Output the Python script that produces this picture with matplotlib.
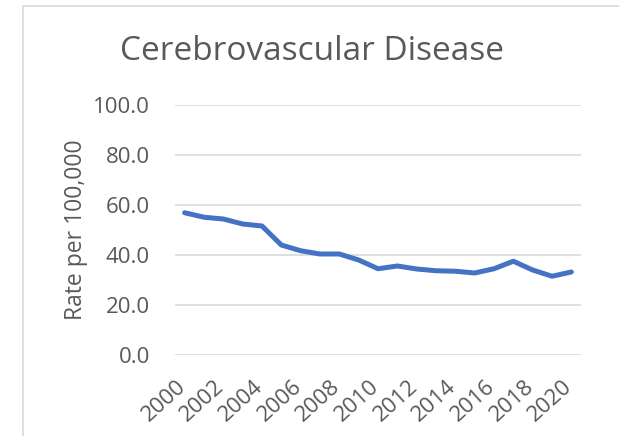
import matplotlib
matplotlib.use('Agg')
import matplotlib.pyplot as plt
from matplotlib.patches import Rectangle
from matplotlib.transforms import ScaledTranslation

# Данные графика
years = list(range(2000, 2021))
rates = [56.9, 55.1, 54.4, 52.4, 51.6, 44.0, 41.7, 40.4, 40.4, 38.0, 34.5,
         35.6, 34.4, 33.7, 33.5, 32.8, 34.5, 37.5, 34.0, 31.5, 33.2]
tick_years = list(range(2000, 2021, 2))
y_ticks = [0, 20, 40, 60, 80, 100]

plt.rcParams['font.family'] = ['Open Sans', 'DejaVu Sans']
text_color = '#595959'

fig = plt.figure(figsize=(6.19, 4.36), dpi=100)
ax = fig.add_axes([0.2827, 0.1858, 0.6559, 0.5734])

# рамка области диаграммы
fig.patches.append(Rectangle((23 / 619, -0.1), 1.2, 1 - 6 / 436 + 0.1,
                             transform=fig.transFigure, fill=False,
                             edgecolor='#D9D9D9', linewidth=1.2))

ax.plot(years, rates, color='#4472C4', linewidth=3.6, solid_capstyle='round',
        solid_joinstyle='round')

ax.set_xlim(1999.5, 2020.5)
ax.set_ylim(0, 100)
ax.set_yticks(y_ticks)
ax.set_yticklabels([f'{v:.1f}' for v in y_ticks])
ax.set_xticks(tick_years)
ax.set_xticklabels([str(y) for y in tick_years], rotation=42, ha='right',
                   va='top', rotation_mode='anchor')

ax.grid(axis='y', color='#D9D9D9', linewidth=1.2)
ax.set_axisbelow(True)
for s in ax.spines.values():
    s.set_visible(False)
ax.tick_params(length=0, colors=text_color)
ax.tick_params(axis='y', pad=18, labelsize=16)
ax.tick_params(axis='x', pad=15, labelsize=16)

# сдвигаем подписи по X чуть влево, как в Excel
shift = ScaledTranslation(-9 / 100, 0, fig.dpi_scale_trans)
for lbl in ax.get_xticklabels():
    lbl.set_transform(lbl.get_transform() + shift)

ax.set_ylabel('Rate per 100,000', fontsize=16.5, color=text_color, labelpad=4)
fig.text(0.5 * (118 + 505) / 619, 1 - 51 / 436, 'Cerebrovascular Disease',
         ha='center', va='center', fontsize=24, color=text_color)

fig.savefig('out.png', dpi=100)
